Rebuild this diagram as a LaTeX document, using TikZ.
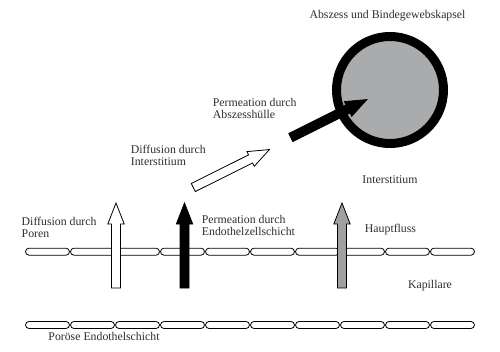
\documentclass[tikz,border=0pt]{standalone}
\usepackage{fontspec}
\setmainfont{Liberation Serif}
\usepackage{tikz}
\usetikzlibrary{positioning}
\definecolor{abszessgrau}{RGB}{170,171,173}
\definecolor{flussgrau}{RGB}{160,160,162}
\definecolor{txt}{RGB}{45,45,45}

\begin{document}
\begin{tikzpicture}[x=1pt, y=1pt,
  lbl/.style={font=\fontsize{11.8}{12}\selectfont, text=txt, inner sep=0pt, align=left},
  cell/.style={draw, line width=0.8pt, rounded corners=3.5pt, fill=white},
  fatarrow/.pic={\draw[pic actions, line width=0.8pt, line join=miter]
    (0,-4.5) -- (64,-4.5) -- (64,-8.2) -- (85,0) -- (64,8.2) -- (64,4.5) -- (0,4.5) -- cycle;}
]
\useasboundingbox (0,0) rectangle (500,351);

% Kapillare: zwei Reihen Endothelzellen
\foreach \i in {0,...,9} {
  \draw[cell] (25.5+45*\i, 95.8) rectangle ++(44,7);
  \draw[cell] (25.5+45*\i, 22.5) rectangle ++(44,7);
}

% Abszess
\node[circle, draw, line width=9pt, fill=abszessgrau, minimum size=107pt, inner sep=0pt] (abszess) at (390,261) {};

% Transportpfeile
\pic[rotate=90, fill=white] at (116,63) {fatarrow};
\pic[rotate=90, fill=black] at (184.5,63) {fatarrow};
\pic[rotate=90, fill=flussgrau] at (342,63) {fatarrow};
\pic[rotate=26.5, fill=white] at (193.3,163.5) {fatarrow};
\pic[rotate=26.5, fill=black] at (290.8,213.5) {fatarrow};

% Beschriftungen
\node[lbl] (kapsel) at (387.5,335) {Abszess und Bindegewebskapsel};
\node[lbl, anchor=west] (huelle) at (212.7,242.2) {Permeation durch\\Abszesshülle};
\node[lbl, anchor=west] (diffint) at (130.7,195.2) {Diffusion durch\\Interstitium};
\node[lbl] (inter) at (390,171) {Interstitium};
\node[lbl, anchor=west] (poren) at (21.5,123.5) {Diffusion durch\\Poren};
\node[lbl, anchor=west] (endo) at (201.7,125.2) {Permeation durch\\Endothelzellschicht};
\node[lbl] (haupt) at (390.5,121) {Hauptfluss};
\node[lbl] (kap) at (430,65.3) {Kapillare};
\node[lbl] (poroes) at (104,14.3) {Poröse Endothelschicht};
\end{tikzpicture}
\end{document}
